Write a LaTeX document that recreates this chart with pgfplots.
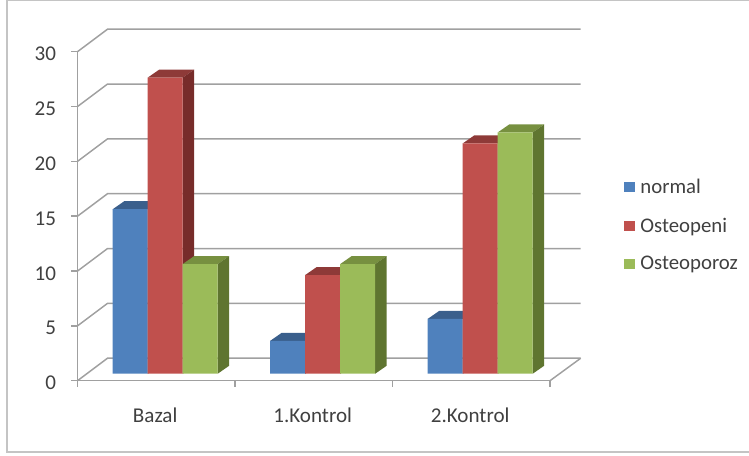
\documentclass[border=0pt]{standalone}
\usepackage{pgfplots}
\usepackage{pgfplotstable}
\usepackage{fontspec}
\setmainfont{Carlito}
\pgfplotsset{compat=1.18}

\definecolor{ink}{HTML}{404040}
\definecolor{rule}{HTML}{A0A0A0}
\definecolor{framegray}{HTML}{C4C4C4}
\definecolor{blueF}{HTML}{4F81BD}\definecolor{blueT}{HTML}{3A5F8C}\definecolor{blueS}{HTML}{2F4D71}
\definecolor{redF}{HTML}{C0504D}\definecolor{redT}{HTML}{8E3A38}\definecolor{redS}{HTML}{772C2A}
\definecolor{greenF}{HTML}{9BBB59}\definecolor{greenT}{HTML}{779040}\definecolor{greenS}{HTML}{5F7530}

% One row per measurement, one column per group
\pgfplotstableread{
x     normal Osteopeni Osteoporoz
0.557 15     27        10
1.557 3      9         10
2.557 5      21        22
}\bardata

% Depth of the bars and of the chart walls, in axis units
\def\barw{0.2222}
\def\bardx{0.073}
\def\bardy{0.729}
\def\walldx{0.1905}
\def\walldy{2.05}
\def\wallend{3.195}

% Top and side faces of a column of \bardata; #2 is the series position 0,1,2
\newcommand\barfaces[4]{%
  \pgfplotsforeachungrouped \r in {0,1,2}{%
    \pgfplotstablegetelem{\r}{#1}\of\bardata \let\v\pgfplotsretval
    \pgfplotstablegetelem{\r}{x}\of\bardata \let\c\pgfplotsretval
    \pgfmathsetmacro\xl{\c+(#2-1.5)*\barw}%
    \pgfmathsetmacro\xr{\xl+\barw}%
    \pgfmathsetmacro\xlb{\xl+\bardx}%
    \pgfmathsetmacro\xrb{\xr+\bardx}%
    \pgfmathsetmacro\vb{\v+\bardy}%
    \edef\temp{\noexpand\addplot[sharp plot,fill=#3,draw=none,forget plot] coordinates
      {(\xl,\v) (\xr,\v) (\xrb,\vb) (\xlb,\vb)} -- cycle;
      \noexpand\addplot[sharp plot,fill=#4,draw=none,forget plot] coordinates
      {(\xr,0) (\xrb,\bardy) (\xrb,\vb) (\xr,\v)} -- cycle;}%
    \temp
  }%
}

\begin{document}
\begin{tikzpicture}
\path[use as bounding box] (0,0) rectangle (561.75pt,341.25pt);
\draw[framegray,line width=0.8pt] (561.75pt,340.8pt) -- (5.25pt,340.8pt) -- (5.25pt,2.25pt) -- (561.75pt,2.25pt);

% Walls, floor and axes
\begin{axis}[
  at={(58.125pt,55.725pt)}, anchor=south west,
  scale only axis, width=354.375pt, height=246.75pt,
  xmin=0, xmax=3, ymin=0, ymax=30, clip=false,
  axis x line*=bottom, axis y line*=left,
  axis line style={rule,line width=1.1pt,-},
  tick style={rule,line width=1.1pt},
  tick align=outside, major tick length=4.6pt,
  xtick={0,1,2,3}, x tick label as interval,
  xticklabels={Bazal,1.Kontrol,2.Kontrol},
  ytick={0,5,...,30},
  /pgf/number format/assume math mode=true,
  tick label style={font=\fontsize{15.8pt}{18pt}\selectfont,text=ink},
  yticklabel style={xshift=-8pt,yshift=-1.8pt},
  xticklabel style={xshift=-0.8pt,yshift=-12pt},
]
\pgfplotsforeachungrouped \w in {0,5,...,30}{%
  \pgfmathsetmacro\wb{\w+\walldy}%
  \edef\temp{\noexpand\addplot[rule,line width=1.1pt,forget plot] coordinates
    {(0,\w) (\walldx,\wb) (\wallend,\wb)};}%
  \temp
}
\addplot[rule,line width=1.1pt,forget plot] coordinates {(3,0) (\wallend,\walldy)};
\end{axis}

% Columns, standing a little behind the front edge of the floor
\begin{axis}[
  at={(58.125pt,55.725pt)}, anchor=south west,
  scale only axis, width=354.375pt, height=246.75pt,
  xmin=0, xmax=3, ymin=-0.638, ymax=29.362, clip=false,
  axis x line=none, axis y line=none,
  legend style={
    at={(1.1566,0.472)}, anchor=west, draw=none, fill=none, inner sep=0pt,
    font=\fontsize{15.6pt}{18pt}\selectfont, text=ink,
    row sep=12.8pt, cells={anchor=west},
    /tikz/every odd column/.append style={column sep=2.2pt},
  },
  legend image code/.code={\fill[#1] (0pt,-3.95pt) rectangle (7.9pt,3.95pt);},
]
\barfaces{normal}{0}{blueT}{blueS}
\addplot[ybar,bar width=26.25pt,fill=blueF,draw=none,bar shift=-26.25pt] table[x=x,y=normal] {\bardata};
\addlegendentry{normal}
\barfaces{Osteopeni}{1}{redT}{redS}
\addplot[ybar,bar width=26.25pt,fill=redF,draw=none,bar shift=0pt] table[x=x,y=Osteopeni] {\bardata};
\addlegendentry{Osteopeni}
\barfaces{Osteoporoz}{2}{greenT}{greenS}
\addplot[ybar,bar width=26.25pt,fill=greenF,draw=none,bar shift=26.25pt] table[x=x,y=Osteoporoz] {\bardata};
\addlegendentry{Osteoporoz}
\end{axis}
\end{tikzpicture}
\end{document}
